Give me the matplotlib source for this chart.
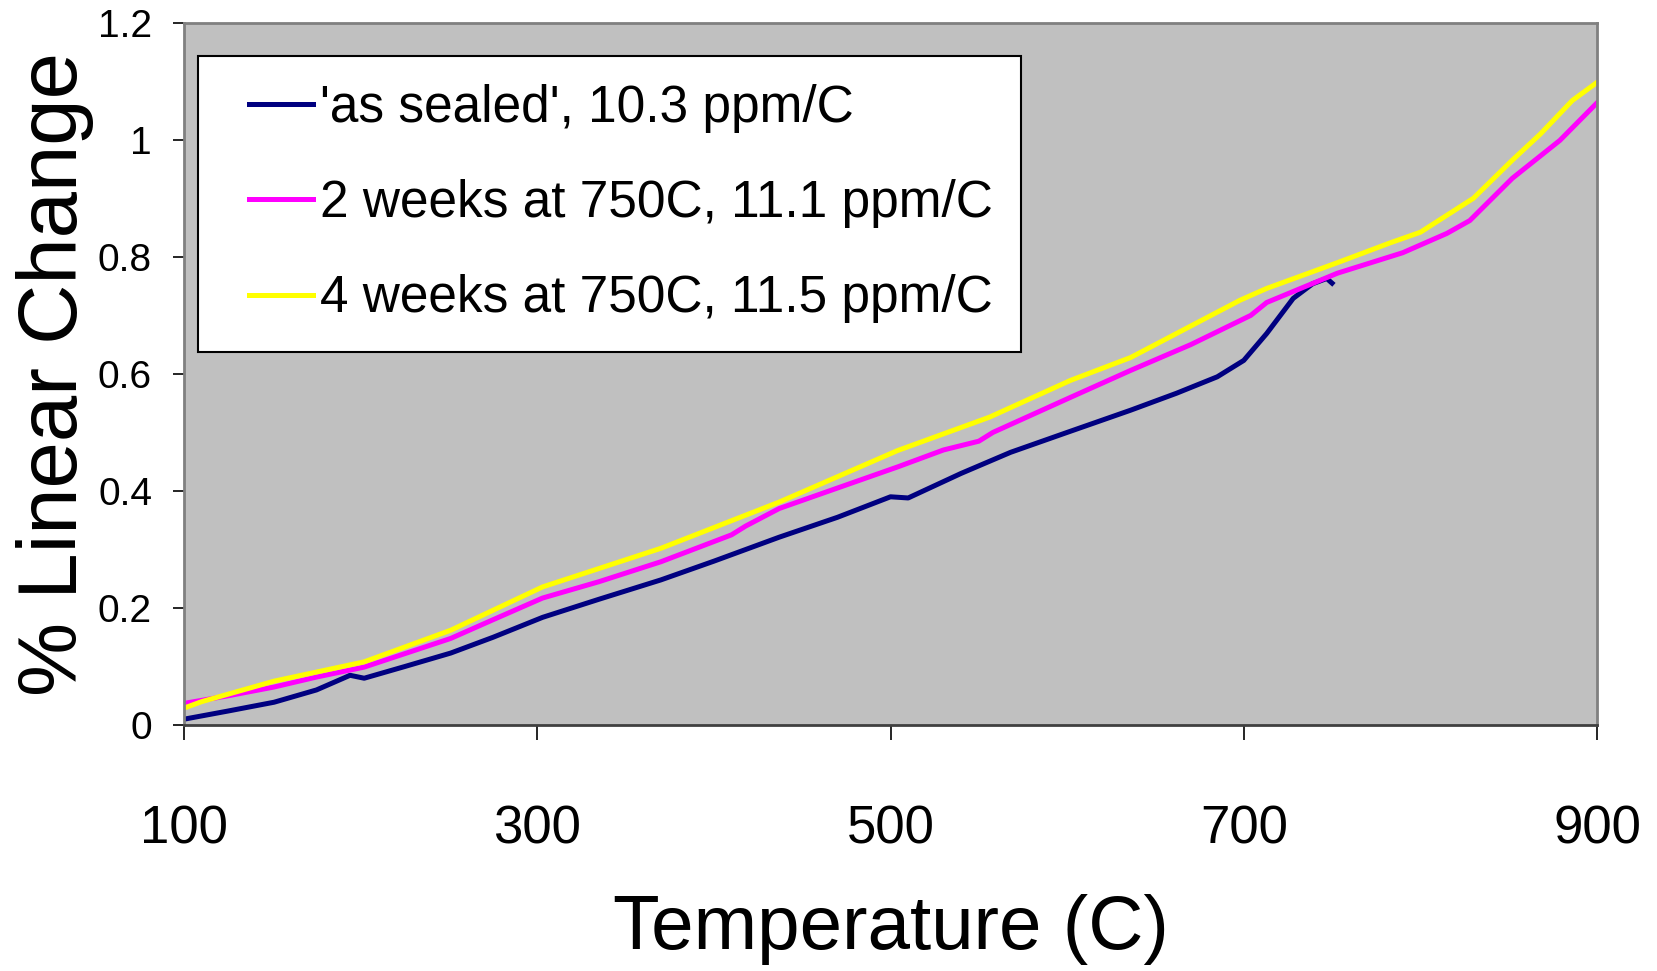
import numpy as np
from matplotlib import pyplot as plt
from matplotlib.legend_handler import HandlerLine2D

plt.rcParams['font.family'] = ['Liberation Sans', 'DejaVu Sans']

# 'as sealed'
t_sealed = [100, 125, 151, 175, 194, 202, 225, 251, 275, 303, 335, 370, 400, 437,
            470, 500, 510, 540, 568, 600, 636, 662, 685, 700, 713, 728, 739, 747, 750]
y_sealed = [0.010, 0.024, 0.039, 0.060, 0.085, 0.080, 0.100, 0.123, 0.150, 0.184,
            0.215, 0.248, 0.280, 0.321, 0.355, 0.390, 0.388, 0.430, 0.466, 0.500,
            0.538, 0.567, 0.595, 0.623, 0.669, 0.729, 0.754, 0.763, 0.755]

# 2 weeks at 750C
t_2wk = [100, 125, 151, 175, 202, 225, 251, 275, 303, 335, 370, 410, 418, 437, 470,
         504, 530, 550, 558, 602, 636, 670, 704, 713, 753, 790, 815, 828, 852, 879, 900]
y_2wk = [0.037, 0.050, 0.065, 0.082, 0.099, 0.122, 0.148, 0.180, 0.217, 0.245, 0.279,
         0.325, 0.340, 0.370, 0.405, 0.441, 0.470, 0.485, 0.500, 0.560, 0.606, 0.650,
         0.700, 0.722, 0.772, 0.807, 0.840, 0.862, 0.934, 0.999, 1.063]

# 4 weeks at 750C
t_4wk = [100, 110, 151, 202, 251, 303, 370, 437, 504, 556, 602, 636, 698, 713, 753,
         783, 800, 830, 852, 868, 886, 900]
y_4wk = [0.029, 0.040, 0.075, 0.108, 0.162, 0.236, 0.302, 0.381, 0.469, 0.526, 0.589,
         0.628, 0.726, 0.746, 0.790, 0.824, 0.842, 0.900, 0.965, 1.010, 1.067, 1.098]

labels = ["'as sealed', 10.3 ppm/C", "2 weeks at 750C, 11.1 ppm/C", "4 weeks at 750C, 11.5 ppm/C"]
x_ticks = [100, 300, 500, 700, 900]
y_ticks = [0, 0.2, 0.4, 0.6, 0.8, 1, 1.2]
y_ticklabels = ['0', '0.2', '0.4', '0.6', '0.8', '1', '1.2']


# legend key drawn only on the right part of the handle box (extra left margin, like Excel)
class KeyHandler(HandlerLine2D):
    def get_xdata(self, legend, xdescent, ydescent, width, height, fontsize):
        x1 = -xdescent + width
        x0 = x1 - 1.23 * fontsize
        return np.array([x0, x1]), np.array([x0, x1])


fig = plt.figure(figsize=(16.58, 9.71), dpi=100)
ax = fig.add_axes([0.111, 0.2533, 0.8522, 0.7233])
ax.set_facecolor('#C0C0C0')

l1, = ax.plot(t_sealed, y_sealed, color='#000080', lw=3.6, label=labels[0])
l2, = ax.plot(t_2wk, y_2wk, color='#FF00FF', lw=3.6, label=labels[1])
l3, = ax.plot(t_4wk, y_4wk, color='#FFFF00', lw=3.6, label=labels[2])

ax.set_xlim(100, 900)
ax.set_ylim(0, 1.2)
ax.set_xticks(x_ticks)
ax.set_yticks(y_ticks)
ax.set_yticklabels(y_ticklabels)
ax.tick_params(axis='y', direction='out', length=8, width=1.2, pad=15, labelsize=28)
ax.tick_params(axis='x', direction='out', length=11, width=1.2, pad=46, labelsize=38)

for s in ['left', 'right', 'top']:
    ax.spines[s].set_color('#808080')
    ax.spines[s].set_linewidth(2)
ax.spines['bottom'].set_color('#404040')
ax.spines['bottom'].set_linewidth(2)

ax.set_xlabel('Temperature (C)', fontsize=55)
ax.set_ylabel('% Linear Change', fontsize=60)
ax.xaxis.set_label_coords(0.5, -0.24)
ax.yaxis.set_label_coords(-0.064, 0.5)

hm = {l1: KeyHandler(), l2: KeyHandler(), l3: KeyHandler()}
leg = ax.legend(handler_map=hm, loc='upper left', bbox_to_anchor=(0.0099, 0.953), fontsize=37,
                handlelength=1.68, handletextpad=0.15, labelspacing=0.9,
                borderpad=0.55, borderaxespad=0, fancybox=False, framealpha=1)
leg.get_frame().set_edgecolor('black')
leg.get_frame().set_linewidth(1.5)

fig.savefig('out.png', dpi=100)
